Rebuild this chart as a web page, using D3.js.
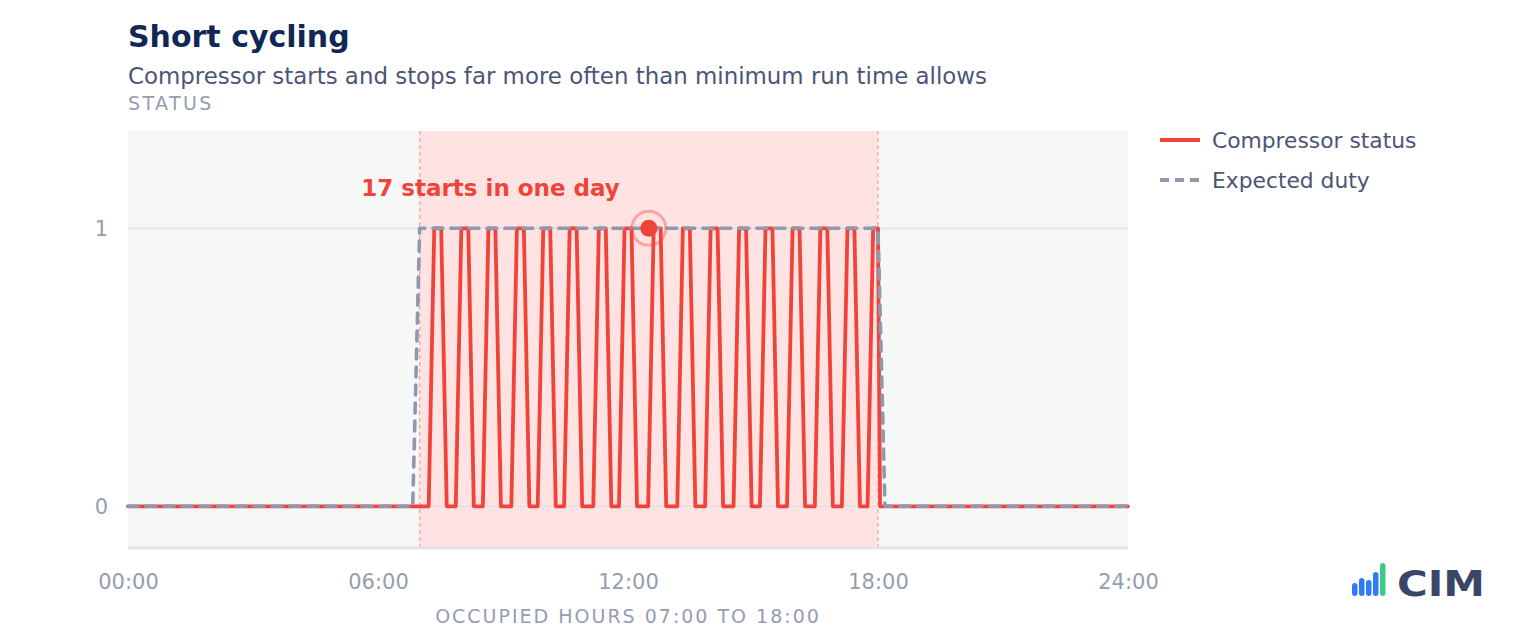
<!DOCTYPE html>
<html><head><meta charset="utf-8">
<script src="https://cdn.jsdelivr.net/npm/d3@7"></script>
<style>
html,body{margin:0;padding:0;background:#fff;}
svg{display:block;font-family:"DejaVu Sans",sans-serif;}
</style></head><body>
<svg id="chart" width="1520" height="640"></svg>
<script>
// ---------------- data ----------------
const title = "Short cycling";
const subtitle = "Compressor starts and stops far more often than minimum run time allows";
const yAxisLabel = "STATUS";
const xAxisLabel = "OCCUPIED HOURS 07:00 TO 18:00";
const xTickTimes = ["00:00","06:00","12:00","18:00","24:00"];
const yTickValues = [0, 1];
const occupiedWindow = ["07:00","18:00"];
const seriesNames = ["Compressor status","Expected duty"];

const statusTimes = [
  "00:00",
  "07:13","07:21","07:31","07:39",
  "07:52","08:00","08:10","08:18",
  "08:31","08:39","08:49","08:57",
  "09:12","09:20","09:30","09:38",
  "09:50","09:58","10:08","10:16",
  "10:28","10:36","10:46","10:54",
  "11:10","11:18","11:28","11:36",
  "11:47","11:55","12:05","12:13",
  "12:29","12:37","12:47","12:55",
  "13:11","13:19","13:29","13:37",
  "13:51","13:59","14:09","14:17",
  "14:32","14:40","14:50","14:58",
  "15:10","15:18","15:28","15:36",
  "15:49","15:57","16:07","16:15",
  "16:29","16:37","16:47","16:55",
  "17:08","17:16","17:26","17:34",
  "17:45","17:53","18:00","18:03",
  "24:00"
];
const statusValues = [
  0,
  0,1,1,0, 0,1,1,0, 0,1,1,0, 0,1,1,0, 0,1,1,0, 0,1,1,0,
  0,1,1,0, 0,1,1,0, 0,1,1,0, 0,1,1,0, 0,1,1,0, 0,1,1,0,
  0,1,1,0, 0,1,1,0, 0,1,1,0, 0,1,1,0, 0,1,1,0,
  0
];
const expectedTimes = ["00:00","06:50","07:00","18:00","18:10","24:00"];
const expectedValues = [0, 0, 1, 1, 0, 0];

const annotationTime = "12:30";
const annotationValue = 1;
const annotationText = "17 starts in one day";

const logoText = "CIM";
const logoBarHeights = [13, 18, 16, 24, 33];

// ---------------- helpers ----------------
const toMin = s => { const [h, m] = s.split(":").map(Number); return h * 60 + m; };
const statusData = statusTimes.map((t, i) => ({ t: toMin(t), v: statusValues[i] }));
const expectedData = expectedTimes.map((t, i) => ({ t: toMin(t), v: expectedValues[i] }));

const COLORS = {
  title: "#0f2856", subtitle: "#4b5576", muted: "#959db0",
  plotBg: "#f6f8f7", band: "#ffe3e3", bandEdge: "#f4a0a0",
  grid: "#dfe2e5", axis: "#e2e4e8",
  red: "#f0443a", gray: "#8f98ad", legendText: "#4b5576"
};

const svg = d3.select("#chart");
const M = { left: 128, right: 1128, top: 131, bottom: 548 };

const x = d3.scaleLinear().domain([0, 1440]).range([M.left, M.right]);
const y = d3.scaleLinear().domain([-0.15, 1.35]).range([M.bottom, M.top]);

// titles
svg.append("text").attr("x", 128).attr("y", 47).text(title)
  .attr("font-size", 30).attr("font-weight", "bold").attr("fill", COLORS.title);
svg.append("text").attr("x", 128).attr("y", 83.5).text(subtitle)
  .attr("font-size", 22.9).attr("fill", COLORS.subtitle);
svg.append("text").attr("x", 128).attr("y", 109.5).text(yAxisLabel)
  .attr("font-size", 19).attr("letter-spacing", 2.4).attr("fill", COLORS.muted);

// plot background
svg.append("rect").attr("x", M.left).attr("y", M.top)
  .attr("width", M.right - M.left).attr("height", M.bottom - M.top)
  .attr("fill", COLORS.plotBg);

// occupied band
const b0 = x(toMin(occupiedWindow[0])), b1 = x(toMin(occupiedWindow[1]));
svg.append("rect").attr("x", b0).attr("y", M.top)
  .attr("width", b1 - b0).attr("height", M.bottom - M.top).attr("fill", COLORS.band);
[b0, b1].forEach(bx => svg.append("line")
  .attr("x1", bx).attr("x2", bx).attr("y1", M.top).attr("y2", M.bottom)
  .attr("stroke", COLORS.bandEdge).attr("stroke-width", 1.3).attr("stroke-dasharray", "4,3"));

// gridlines
svg.append("g").selectAll("line").data(yTickValues).join("line")
  .attr("x1", M.left).attr("x2", M.right)
  .attr("y1", d => y(d)).attr("y2", d => y(d))
  .attr("stroke", COLORS.grid).attr("stroke-width", 1.5);

// bottom axis line
svg.append("line").attr("x1", M.left).attr("x2", M.right)
  .attr("y1", M.bottom).attr("y2", M.bottom)
  .attr("stroke", COLORS.axis).attr("stroke-width", 3);

// x axis
const xAxis = d3.axisBottom(x).tickValues(xTickTimes.map(toMin))
  .tickFormat((d, i) => xTickTimes[i]).tickSize(0);
const gx = svg.append("g").attr("transform", `translate(0,${M.bottom})`).call(xAxis);
gx.select(".domain").remove();
gx.selectAll("text").attr("y", 41).attr("dy", null)
  .attr("font-size", 21).attr("font-family", "DejaVu Sans").attr("fill", COLORS.muted);

// y axis
const yAxis = d3.axisLeft(y).tickValues(yTickValues).tickFormat(d3.format("d")).tickSize(0).tickPadding(20);
const gy = svg.append("g").attr("transform", `translate(${M.left},0)`).call(yAxis);
gy.select(".domain").remove();
gy.selectAll("text").attr("font-size", 21).attr("font-family", "DejaVu Sans")
  .attr("fill", COLORS.muted).attr("dy", "0.36em");

// x axis title
svg.append("text").attr("x", (M.left + M.right) / 2).attr("y", 623)
  .attr("text-anchor", "middle").text(xAxisLabel)
  .attr("font-size", 19).attr("letter-spacing", 2).attr("fill", COLORS.muted);

// lines
const line = d3.line().x(d => x(d.t)).y(d => y(d.v));
svg.append("path").datum(statusData).attr("d", line)
  .attr("fill", "none").attr("stroke", COLORS.red).attr("stroke-width", 3.8)
  .attr("stroke-linejoin", "round").attr("stroke-linecap", "round");
svg.append("path").datum(expectedData).attr("d", line)
  .attr("fill", "none").attr("stroke", COLORS.gray).attr("stroke-width", 3.6)
  .attr("stroke-dasharray", "10,8").attr("stroke-linecap", "round").attr("stroke-linejoin", "round");

// annotation
const ax = x(toMin(annotationTime)), ay = y(annotationValue);
svg.append("circle").attr("cx", ax).attr("cy", ay).attr("r", 17)
  .attr("fill", "none").attr("stroke", COLORS.red).attr("stroke-opacity", 0.38).attr("stroke-width", 3);
svg.append("circle").attr("cx", ax).attr("cy", ay).attr("r", 8.5).attr("fill", COLORS.red);
svg.append("text").attr("x", ax - 29).attr("y", ay - 32.5).attr("text-anchor", "end")
  .text(annotationText).attr("font-size", 23).attr("font-weight", "bold").attr("fill", COLORS.red);

// legend
const legend = svg.append("g").attr("transform", "translate(1160,140)");
seriesNames.forEach((name, i) => {
  const g = legend.append("g").attr("transform", `translate(0,${i * 40})`);
  const l = g.append("line").attr("x1", 0).attr("x2", 40).attr("y1", 0).attr("y2", 0)
    .attr("stroke-width", 4);
  if (i === 0) l.attr("stroke", COLORS.red);
  else l.attr("stroke", COLORS.gray).attr("stroke-dasharray", "9,6");
  g.append("text").attr("x", 52).attr("y", 0).attr("dy", "0.36em").text(name)
    .attr("font-size", 21.8).attr("fill", COLORS.legendText);
});

// logo
const logo = svg.append("g").attr("transform", "translate(1352,596)");
logoBarHeights.forEach((h, i) => {
  logo.append("rect").attr("x", i * 7).attr("y", -h).attr("width", 5.5).attr("height", h)
    .attr("rx", 2.75).attr("fill", i === logoBarHeights.length - 1 ? "#40c98a" : "#2f7cf6");
});
logo.append("text").attr("x", 45).attr("y", 0).text(logoText)
  .attr("font-size", 36).attr("font-weight", "bold").attr("fill", "#3a4667")
  .attr("textLength", 88).attr("lengthAdjust", "spacingAndGlyphs");
</script>
</body></html>
